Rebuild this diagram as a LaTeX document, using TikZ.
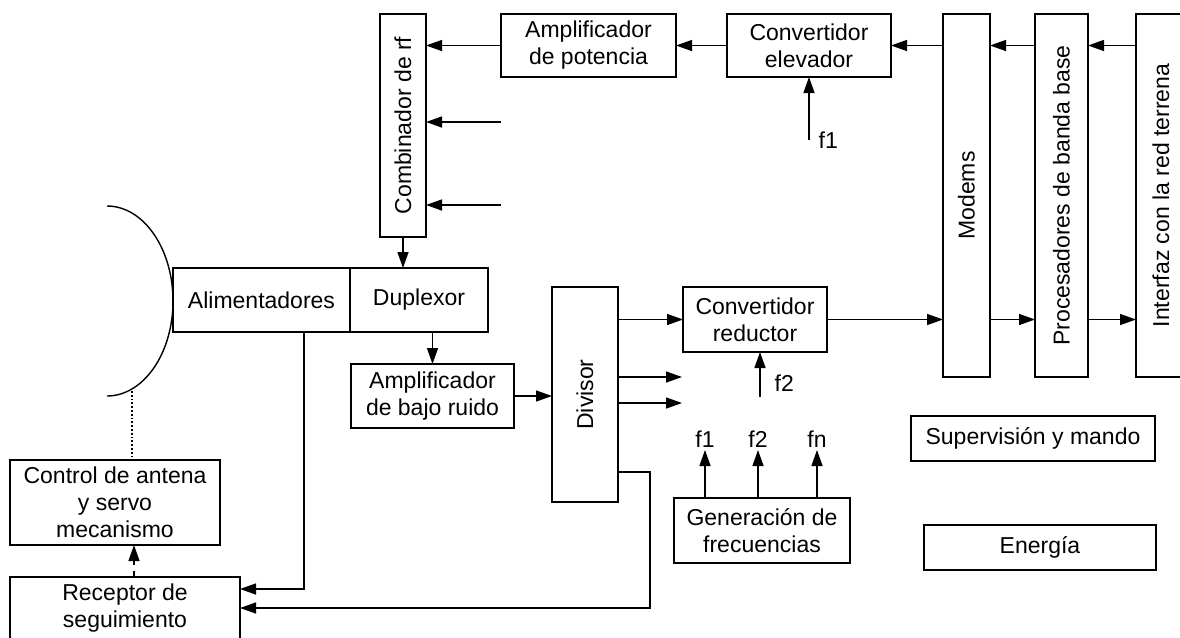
\documentclass[tikz,border=0pt]{standalone}
\usepackage{fontspec}
\setmainfont{Liberation Sans}
\usetikzlibrary{arrows.meta,calc}

\begin{document}
\begin{tikzpicture}[x=0.5pt, y=-0.5pt, line width=0.7pt,
  font=\fontsize{11.5}{13.5}\selectfont, >={Triangle[length=8pt, width=5.5pt]},
  blk/.style={draw, align=center, inner sep=0pt, outer sep=0pt},
  flow/.style={->},
  lbl/.style={inner sep=1pt}]
  \clip (0,0) rectangle (1180,638);
  % transmit chain
  \node[blk, minimum width=23pt, minimum height=111.5pt] (comb) at (403,125.5) {\rotatebox{90}{Combinador de rf}};
  \node[blk, minimum width=87.5pt, minimum height=31.5pt] (amp) at (588.5,45.5) {Amplificador\\de potencia};
  \node[blk, minimum width=82pt, minimum height=31.5pt] (elev) at (809,45.5) {Convertidor\\elevador};
  \node[blk, minimum width=23.5pt, minimum height=181.5pt] (mod) at (966.5,195.5) {\rotatebox{90}{Modems}};
  \node[blk, minimum width=26.5pt, minimum height=181.5pt] (proc) at (1061.5,195.5) {\rotatebox{90}{Procesadores de banda base}};
  \node[blk, minimum width=25pt, minimum height=181.5pt] (intf) at (1161,195.5) {\rotatebox{90}{Interfaz con la red terrena}};
  % antenna side
  \node[blk, minimum width=88.5pt, minimum height=32pt] (ali) at (261.5,300) {Alimentadores};
  \node[blk, minimum width=69pt, minimum height=32pt] (dup) at (419,300) {Duplexor};
  \node[blk, minimum width=81.5pt, minimum height=32pt] (lna) at (432.5,396) {Amplificador\\de bajo ruido};
  \node[blk, minimum width=33pt, minimum height=107.5pt] (div) at (585,394.5) {\rotatebox{90}{Divisor}};
  \node[blk, minimum width=72pt, minimum height=32.5pt] (red) at (755,319.5) {Convertidor\\reductor};
  \node[blk, minimum width=88pt, minimum height=32.5pt] (gen) at (762,530.5) {Generación de\\frecuencias};
  \node[blk, minimum width=122pt, minimum height=22.5pt] (sup) at (1033,438.5) {Supervisión y mando};
  \node[blk, minimum width=116pt, minimum height=22.5pt] (ene) at (1040,547.5) {Energía};
  \node[blk, minimum width=105pt, minimum height=42.5pt] (ctl) at (115,502.5) {Control de antena\\y servo\\mecanismo};
  \node[blk, minimum width=115pt, minimum height=31pt] (rec) at (125,608) {Receptor de\\seguimiento};
  % antenna reflector
  \draw (107,206) arc[start angle=90, end angle=-90, x radius=33pt, y radius=47.5pt];
  \coordinate (antbot) at (132,391);
  \coordinate (in2) at (501,122);
  \coordinate (in3) at (501,205);
  \coordinate (f1in) at (809,140);
  \coordinate (f2in) at (760,397);
  \coordinate (o2) at (682,377);
  \coordinate (o3) at (682,403);
  \coordinate (tap) at ($(ali.south)+(42.5,0)$);
  % upper flows
  \draw[flow] (intf.west |- elev) -- (proc.east |- elev);
  \draw[flow] (proc.west |- elev) -- (mod.east |- elev);
  \draw[flow] (mod.west |- elev) -- (elev.east);
  \draw[flow] (elev.west) -- (amp.east);
  \draw[flow] (amp.west) -- (comb.east |- amp);
  \draw[flow] (in2) -- (comb.east |- in2);
  \draw[flow] (in3) -- (comb.east |- in3);
  \draw[flow] (f1in) node[lbl, right=3.5pt] {f1} -- (elev.south);
  \draw[flow] (comb.south) -- (comb.south |- dup.north);
  % lower flows
  \draw[flow] (lna.north |- dup.south) -- (lna.north);
  \draw[flow] (lna.east) -- (div.west |- lna);
  \draw[flow] (div.east |- red) -- (red.west);
  \draw[flow] (div.east |- o2) -- (o2);
  \draw[flow] (div.east |- o3) -- (o3);
  \draw[flow] (f2in) -- node[lbl, right=6pt, pos=0.3] {f2} (f2in |- red.south);
  \draw[flow] (red.east) -- (mod.west |- red);
  \draw[flow] (mod.east |- red) -- (proc.west |- red);
  \draw[flow] (proc.east |- red) -- (intf.west |- red);
  \foreach \x/\f in {705/f1, 758/f2, 817/fn}
    \draw[flow] (\x,0 |- gen.north) -- ++(0,-48) node[lbl, above] {\f};
  % tracking
  \draw[densely dotted, line width=0.9pt] (antbot) -- (antbot |- ctl.north);
  \draw[flow, dashed] (rec.north -| 134,0) -- (ctl.south -| 134,0);
  \draw[flow] (tap) |- ($(rec.east)+(0,-19)$);
  \draw[flow] ($(div.south east)+(0,-30)$) -- ++(32,0) |- (rec.east);
\end{tikzpicture}
\end{document}
